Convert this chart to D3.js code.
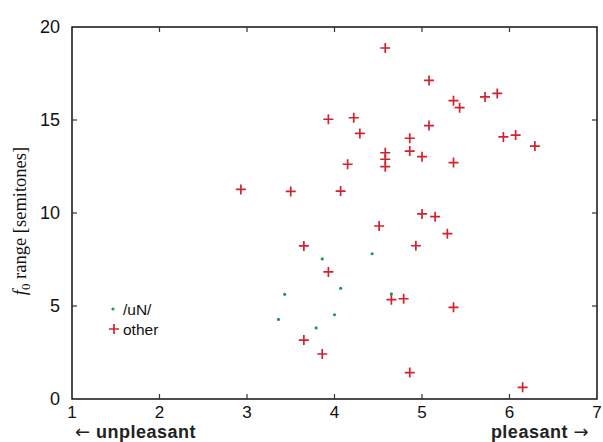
<!DOCTYPE html>
<html>
<head>
<meta charset="utf-8">
<script src="https://cdn.jsdelivr.net/npm/d3@7"></script>
<style>
  body { margin: 0; background: #fff; }
  svg { display: block; }
</style>
</head>
<body>
<div id="chart"></div>
<script>
// pleasantness rating vs f0 range (semitones)
const unX = [3.86, 4.43, 4.07, 3.43, 4.65, 3.36, 4.00, 3.79]
const unY = [7.53, 7.81, 5.95, 5.63, 5.65, 4.28, 4.53, 3.82]

const otherX = [
  4.58, 3.93, 4.22, 4.29, 4.58, 4.58, 4.58, 4.15, 2.93, 3.50, 4.07,
  5.08, 5.36, 5.43, 5.72, 5.86, 5.08, 4.86, 4.86, 5.00, 5.36, 5.93, 6.07, 6.29,
  5.00, 5.15, 5.29, 4.93, 4.79, 5.36, 4.86, 6.15,
  4.51, 3.65, 3.93, 4.65, 3.65, 3.86
]
const otherY = [
  18.87, 15.04, 15.12, 14.28, 13.24, 12.89, 12.49, 12.62, 11.27, 11.16, 11.18,
  17.13, 16.04, 15.66, 16.24, 16.43, 14.70, 14.02, 13.33, 13.03, 12.71, 14.09, 14.19, 13.60,
  9.95, 9.80, 8.89, 8.24, 5.39, 4.93, 1.42, 0.63,
  9.30, 8.23, 6.83, 5.34, 3.17, 2.42
]

const xTicks = [1, 2, 3, 4, 5, 6, 7]
const yTicks = [0, 5, 10, 15, 20]
const legendLabels = ["/uN/", "other"]

const width = 603, height = 442
const margin = { top: 27, right: 6, bottom: 43, left: 72 }
const red = "#d3222e", green = "#1a9e47"

const svg = d3.select("#chart").append("svg")
  .attr("width", width)
  .attr("height", height)

const x = d3.scaleLinear().domain([1, 7]).range([margin.left, width - margin.right])
const y = d3.scaleLinear().domain([0, 20]).range([height - margin.bottom, margin.top])

const font = "'Liberation Sans', Arial, Helvetica, sans-serif"
const arrowFont = "'DejaVu Sans', sans-serif"

// frame
svg.append("rect")
  .attr("x", x(1)).attr("y", y(20))
  .attr("width", x(7) - x(1)).attr("height", y(0) - y(20))
  .attr("fill", "none").attr("stroke", "#000").attr("stroke-width", 1.4)

// inward ticks on all four sides
const tickLen = 5
xTicks.slice(1, -1).forEach(t => {
  svg.append("line").attr("x1", x(t)).attr("x2", x(t))
    .attr("y1", y(0)).attr("y2", y(0) - tickLen)
    .attr("stroke", "#333").attr("stroke-width", 1.2)
  svg.append("line").attr("x1", x(t)).attr("x2", x(t))
    .attr("y1", y(20)).attr("y2", y(20) + tickLen)
    .attr("stroke", "#333").attr("stroke-width", 1.2)
})
yTicks.slice(1, -1).forEach(t => {
  svg.append("line").attr("y1", y(t)).attr("y2", y(t))
    .attr("x1", x(1)).attr("x2", x(1) + tickLen)
    .attr("stroke", "#333").attr("stroke-width", 1.2)
  svg.append("line").attr("y1", y(t)).attr("y2", y(t))
    .attr("x1", x(7)).attr("x2", x(7) - tickLen)
    .attr("stroke", "#333").attr("stroke-width", 1.2)
})

// tick labels
svg.append("g").selectAll("text")
  .data(xTicks)
  .join("text")
  .attr("x", d => x(d))
  .attr("y", 418)
  .attr("text-anchor", "middle")
  .style("font-family", font)
  .style("font-size", "17px")
  .attr("fill", "#111")
  .text(d => d)

svg.append("g").selectAll("text")
  .data(yTicks)
  .join("text")
  .attr("x", x(1) - 12)
  .attr("y", d => y(d))
  .attr("dy", "0.36em")
  .attr("text-anchor", "end")
  .style("font-family", font)
  .style("font-size", "18px")
  .attr("fill", "#111")
  .text(d => d)

// axis titles, arrows drawn thin like the original
const left = svg.append("text")
  .attr("x", 75).attr("y", 438)
  .style("font-family", font).style("font-size", "18px").style("font-weight", "bold")
  .style("letter-spacing", "0.5px")
  .attr("fill", "#222")
left.append("tspan").style("font-family", arrowFont).style("font-weight", "normal").text("\u2190")
left.append("tspan").text(" unpleasant")

const right = svg.append("text")
  .attr("x", 589).attr("y", 438)
  .attr("text-anchor", "end")
  .style("font-family", font).style("font-size", "18px").style("font-weight", "bold")
  .style("letter-spacing", "0.5px")
  .attr("fill", "#222")
right.append("tspan").text("pleasant ")
right.append("tspan").style("font-family", arrowFont).style("font-weight", "normal").text("\u2192")

const yLabel = svg.append("text")
  .attr("transform", `translate(26, 221) rotate(-90)`)
  .attr("text-anchor", "middle")
  .style("font-family", "'Liberation Serif', 'Times New Roman', serif")
  .style("font-size", "18.5px")
  .attr("fill", "#111")
yLabel.append("tspan").style("font-style", "italic").text("f")
yLabel.append("tspan").attr("dy", 4).style("font-size", "13px").text("0")
yLabel.append("tspan").attr("dy", -4).text(" range [semitones]")

// points
const crossPath = "M-5,0H5M0,-5V5"

svg.append("g").selectAll("path")
  .data(d3.range(otherX.length))
  .join("path")
  .attr("transform", i => `translate(${x(otherX[i])},${y(otherY[i])})`)
  .attr("d", crossPath)
  .attr("stroke", red)
  .attr("stroke-width", 1.7)
  .attr("fill", "none")

svg.append("g").selectAll("circle")
  .data(d3.range(unX.length))
  .join("circle")
  .attr("cx", i => x(unX[i]))
  .attr("cy", i => y(unY[i]))
  .attr("r", 1.6)
  .attr("fill", green)

// legend
const lg = svg.append("g")
lg.append("circle").attr("cx", 113).attr("cy", 309).attr("r", 1.6).attr("fill", green)
lg.append("path").attr("transform", "translate(114,329)").attr("d", crossPath)
  .attr("stroke", red).attr("stroke-width", 1.7)
lg.selectAll("text")
  .data(legendLabels)
  .join("text")
  .attr("x", 123)
  .attr("y", (d, i) => 309 + i * 20)
  .attr("dy", "0.36em")
  .style("font-family", font)
  .style("font-size", "15.5px")
  .attr("fill", "#111")
  .text(d => d)
</script>
</body>
</html>
